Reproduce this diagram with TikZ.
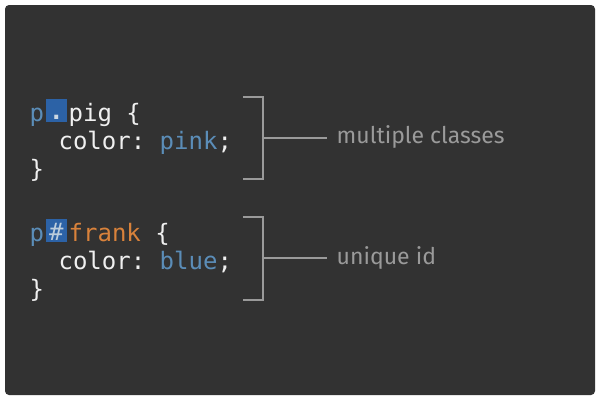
\documentclass[tikz,border=0pt]{standalone}
\usepackage{fontspec}
\setmonofont{DejaVu Sans Mono}
\newfontfamily\labelfont{Fira Sans}
\definecolor{bgdark}{HTML}{323232}
\definecolor{codewhite}{HTML}{F0F0F0}
\definecolor{codeblue}{HTML}{5B8DB8}
\definecolor{codeorange}{HTML}{D9823B}
\definecolor{hlblue}{HTML}{2C62A6}
\definecolor{bracketgray}{HTML}{9A9A9A}
\begin{document}
\begin{tikzpicture}[x=1pt,y=-1pt,
  code/.style={anchor=base west,inner sep=0pt,text=codewhite,font=\ttfamily\fontsize{24}{28}\selectfont},
  hlbox/.style={fill=hlblue,inner sep=0pt,anchor=north west,minimum width=21pt,minimum height=22.5pt},
  brack/.style={draw=bracketgray,line width=1.8pt},
  lbl/.style={anchor=base west,inner sep=0pt,text=bracketgray,font=\labelfont\fontsize{23}{27}\selectfont}]
\useasboundingbox (0,0) rectangle (600,400);
\fill[white] (0,0) rectangle (600,400);
\fill[bgdark,rounded corners=4pt] (5,5) rectangle (595,395);
% block 1
\node[code,text=codeblue] (p1) at (29.5,121) {p};
\node[hlbox] (box1) at (45.7,99) {};
\node[code,text=codeblue!25!codewhite,font=\ttfamily\bfseries\fontsize{24}{28}\selectfont] (dot) at (49,119.5) {.};
\node[code] (pig) at (68.5,121) {pig \{};
\node[code] (c1) at (29.5,149) {\ \ color: \textcolor{codeblue}{pink};};
\node[code] (e1) at (29.5,177) {\}};
% block 2
\node[code,text=codeblue] (p2) at (29.5,241) {p};
\node[hlbox] (box2) at (45.7,219) {};
\node[code,text=codeblue!35!codewhite] (hash) at (49,240) {\#};
\node[code,text=codeorange] (frank) at (68.5,241) {frank \textcolor{codewhite}{\{}};
\node[code] (c2) at (29.5,269) {\ \ color: \textcolor{codeblue}{blue};};
\node[code] (e2) at (29.5,297) {\}};
% brackets
\coordinate (b1t) at (243,97);
\coordinate (b1b) at (243,179);
\coordinate (b1m) at (263,138);
\coordinate (b1e) at (327,138);
\draw[brack] (b1t) -| (b1m) |- (b1b);
\draw[brack] (b1m) -- (b1e);
\node[lbl] (l1) at (336.5,143) {multiple classes};
\coordinate (b2t) at (243,217);
\coordinate (b2b) at (243,300);
\coordinate (b2m) at (263,258);
\coordinate (b2e) at (327,258);
\draw[brack] (b2t) -| (b2m) |- (b2b);
\draw[brack] (b2m) -- (b2e);
\node[lbl] (l2) at (336.5,264) {unique id};
\end{tikzpicture}
\end{document}
